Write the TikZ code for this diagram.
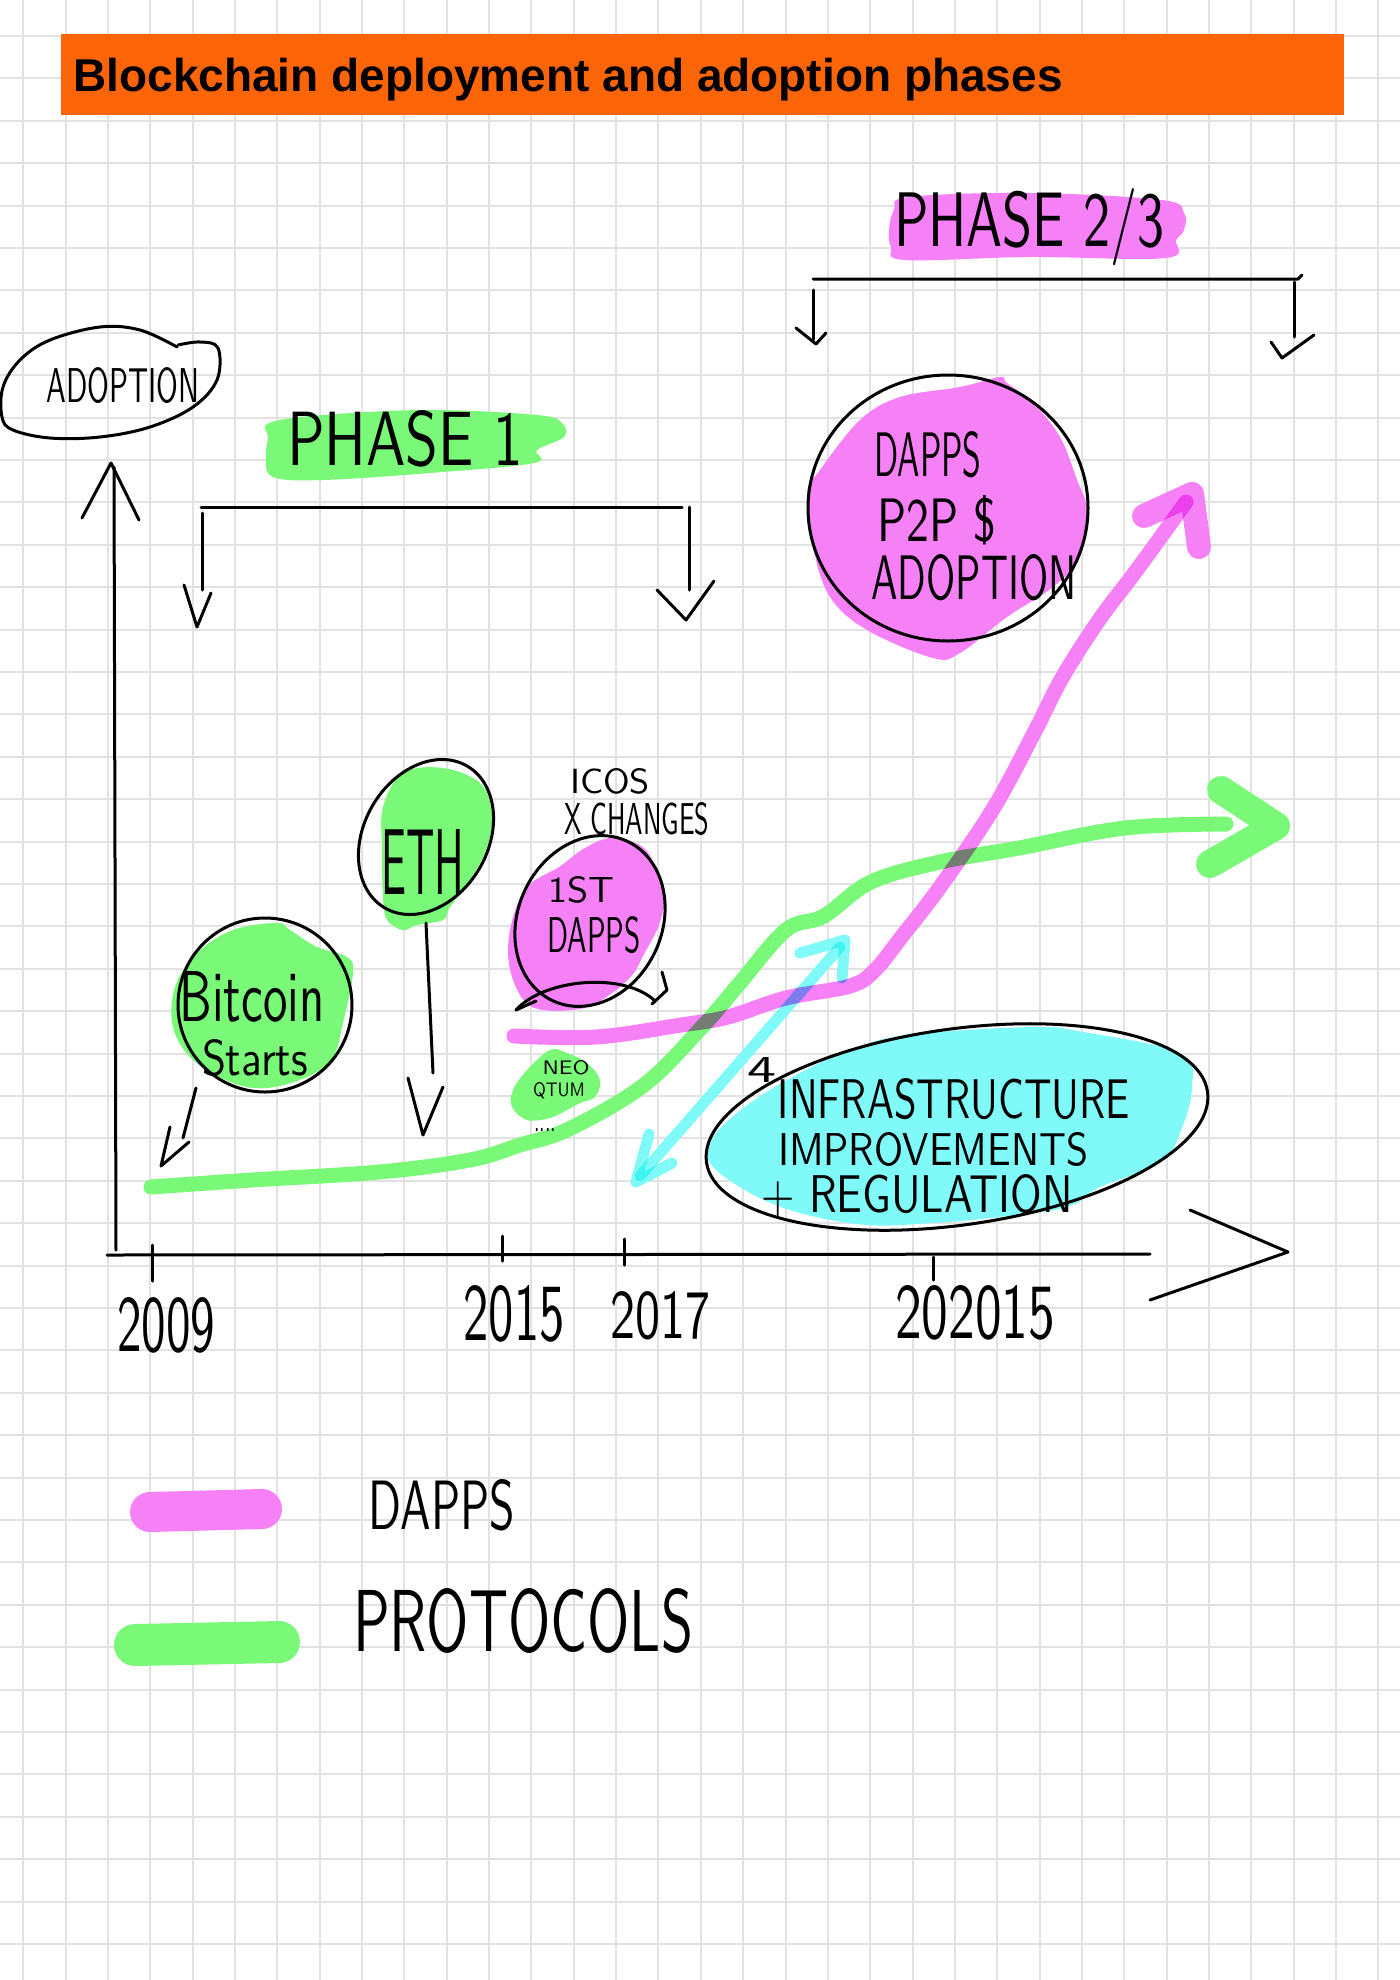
\documentclass[tikz,border=0pt]{standalone}
\usepackage{fontspec}
\setmainfont{Liberation Sans}
\usepackage{graphicx}
\newdimen\pxu \pxu=0.5pt
\newcommand{\hw}[3]{\resizebox{#1\pxu}{#2\pxu}{\sffamily #3}}
\definecolor{hlpink}{RGB}{246,128,246}
\definecolor{hlgreen}{RGB}{122,248,120}
\definecolor{hlcyan}{RGB}{128,250,248}
\definecolor{titleorange}{RGB}{252,100,8}
\definecolor{gridgrey}{RGB}{226,226,226}
\tikzset{
  pen/.style={draw=black, line width=3\pxu, line cap=round, line join=round},
  gridline/.style={draw=gridgrey, line width=2\pxu},
  hlp/.style={draw=hlpink, line cap=round, line join=round},
  hlg/.style={draw=hlgreen, line cap=round, line join=round},
  hlc/.style={draw=hlcyan, line cap=round, line join=round},
  hwtext/.style={inner sep=0pt, outer sep=0pt},
}
\begin{document}
\begin{tikzpicture}[x=0.5pt,y=-0.5pt]
\useasboundingbox (0,0) rectangle (1400,1980);
\fill[white] (0,0) rectangle (1400,1980);
% grid
\foreach \i in {0,...,32} {\draw[gridline] ({23.2+42.35*\i},0) -- ({23.2+42.35*\i},1980);}
\foreach \j in {0,...,45} {\draw[gridline] (0,{36+42.4*\j}) -- (1400,{36+42.4*\j});}
% title
\fill[titleorange] (61,34) rectangle (1344,115);
\node[anchor=base west, inner sep=0pt, font=\bfseries\fontsize{23pt}{23pt}\selectfont] (title) at (73,92) {Blockchain deployment and adoption phases};

% highlighter layer
\begin{scope}[transparency group]
\begin{scope}[blend mode=multiply]
% phase labels
\fill[hlgreen] plot[smooth cycle, tension=0.6] coordinates {(269,423) (323,415) (430,410) (537,415) (562,423) (564,437) (537,450) (534,463) (430,473) (323,480) (273,477) (266,457) (268,437)};
\fill[hlpink] plot[smooth cycle, tension=0.6] coordinates {(909,197) (1030,193) (1162,200) (1184,213) (1184,230) (1176,240) (1166,258) (1030,257) (905,260) (891,247) (889,230) (894,210)};
% DAPPS big blob
\fill[hlpink] plot[smooth cycle, tension=0.6] coordinates {(1000,377) (960,387) (900,397) (860,420) (820,470) (807,493) (813,547) (830,597) (867,630) (933,658) (960,653) (1007,617) (1053,587) (1080,557) (1087,510) (1077,480) (1060,437) (1033,403) (1007,383)};
% bitcoin blob
\fill[hlgreen] plot[smooth cycle, tension=0.6] coordinates {(277,923) (233,930) (197,953) (175,987) (173,1027) (193,1060) (233,1083) (267,1088) (307,1077) (333,1057) (343,1023) (353,973) (347,957) (317,947) (290,930)};
% ETH blob
\fill[hlgreen] plot[smooth cycle, tension=0.6] coordinates {(403,773) (443,768) (480,783) (492,813) (487,847) (470,880) (450,907) (443,920) (417,925) (403,930) (387,920) (383,897) (382,850) (383,807)};
% 1st dapps blob
\fill[hlpink] plot[smooth cycle, tension=0.6] coordinates {(612,838) (644,848) (659,877) (665,896) (659,925) (644,954) (633,974) (612,993) (585,1008) (543,1010) (522,998) (509,964) (511,925) (527,887) (559,867) (585,848)};
% NEO QTUM blob
\fill[hlgreen] plot[smooth cycle, tension=0.6] coordinates {(550,1050) (567,1053) (587,1063) (600,1080) (595,1097) (580,1103) (567,1110) (550,1118) (527,1120) (512,1107) (513,1090) (527,1070)};
% infrastructure blob
\fill[hlcyan] plot[smooth cycle, tension=0.6] coordinates {(907,1035) (1033,1027) (1083,1032) (1180,1053) (1192,1087) (1180,1133) (1160,1163) (1100,1187) (1067,1207) (1000,1217) (933,1223) (867,1225) (800,1213) (750,1193) (710,1163) (713,1137) (750,1103) (800,1073) (850,1050)};
% dapps curve
\draw[hlp, line width=15\pxu] plot[smooth, tension=0.6] coordinates {(514,1036) (596,1037) (681,1025) (728,1017) (786,998) (850,986) (875,970) (903,935) (940,887) (993,809) (1035,731) (1062,678) (1099,620) (1136,571) (1186,502)};
\draw[hlp, line width=24\pxu] (1144,516) -- (1192,494) -- (1199,547);
% protocols curve
\draw[hlg, line width=15\pxu] plot[smooth, tension=0.6] coordinates {(151,1187) (252,1180) (379,1172) (470,1160) (520,1145) (569,1129) (644,1085) (702,1027) (739,984) (786,930) (824,916) (871,882) (940,862) (1019,848) (1125,828) (1226,824)};
\draw[hlg, line width=28\pxu] (1221,790) -- (1276,826) -- (1210,864);
% cyan double arrow
\draw[hlc, line width=11\pxu] (640,1176) -- (840,947);
\draw[hlc, line width=11\pxu] (800,953) -- (845,940) -- (842,978);
\draw[hlc, line width=11\pxu] (649,1134) -- (636,1182) -- (672,1163);
% legend bars
\draw[hlp, line width=40\pxu] (150,1512) -- (262,1509);
\draw[hlg, line width=42\pxu] (135,1645) -- (279,1642);
\end{scope}
\end{scope}

% axes
\draw[pen] (114,467) -- (116,1250);
\draw[pen] (82,518) -- (111,463) -- (139,520);
\draw[pen] (107,1255) -- (1150,1254);
\draw[pen] (1190,1210) -- (1288,1252) -- (1150,1300);
\draw[pen] (152,1245) -- (152,1281);
\draw[pen] (502,1236) -- (502,1261);
\draw[pen] (624,1239) -- (624,1265);
\draw[pen] (933,1257) -- (933,1280);

% ADOPTION loop
\draw[pen] plot[smooth, tension=0.6] coordinates {(178,345) (200,342) (218,348) (217,380) (193,407) (150,427) (100,437) (50,438) (13,430) (2,417) (3,387) (20,360) (50,340) (100,327) (140,330) (177,347)};
\node[hwtext] (adoption) at (123,386) {\hw{153}{35}{ADOPTION}};

% phase 1 bracket
\node[hwtext] (phase1) at (405,439) {\hw{236}{55}{PHASE 1}};
\draw[pen] (201,507) -- (682,507);
\draw[pen] (202,513) -- (202,590);
\draw[pen] (184,585) -- (197,627) -- (211,593);
\draw[pen] (689,507) -- (689,590);
\draw[pen] (657,590) -- (686,620) -- (714,581);

% phase 2/3 bracket
\node[hwtext] (phase23) at (1029,227) {\hw{270}{58}{PHASE 2/3}};
\draw[pen] (813,279) -- (1298,279) -- (1302,275);
\draw[pen] (813,290) -- (813,340);
\draw[pen] (796,328) -- (816,344) -- (826,333);
\draw[pen] (1294,282) -- (1294,337);
\draw[pen] (1271,342) -- (1282,358) -- (1314,335);

% DAPPS circle
\draw[pen] (948,508) ellipse [x radius=140\pxu, y radius=133\pxu];
\node[hwtext] (dapps1) at (928,455) {\hw{107}{45}{DAPPS}};
\node[hwtext] (p2p) at (937,520) {\hw{119}{46}{P2P \$}};
\node[hwtext] (adoption2) at (974,578) {\hw{205}{45}{ADOPTION}};

% ICOS
\node[hwtext] (icos) at (610,781) {\hw{80}{25}{ICOS}};
\node[hwtext] (xchanges) at (637,819) {\hw{145}{32}{X CHANGES}};

% 1st DAPPS
\draw[pen, rotate around={65:(590,921)}] (590,921) ellipse [x radius=88\pxu, y radius=72\pxu];
\node[hwtext] (first) at (581,890) {\hw{66}{26}{1ST}};
\node[hwtext] (dapps2) at (594,935) {\hw{93}{36}{DAPPS}};
\draw[pen] (516,1010) .. controls (545,978) and (625,972) .. (655,1001);
\draw[pen] (662,972) -- (667,990) -- (652,1004);
\draw[pen] (516,1010) -- (536,1001);

% Bitcoin
\draw[pen] (265,1005) circle [radius=87\pxu];
\node[hwtext] (bitcoin) at (252,997) {\hw{145}{50}{Bitcoin}};
\node[hwtext] (starts) at (255,1058) {\hw{106}{36}{Starts}};
\coordinate (btcfrom) at (196,1088);
\coordinate (btcto) at (161,1166);
\draw[pen] (btcfrom) -- (183,1138);
\draw[pen] (170,1127) -- (btcto) -- (189,1142);

% ETH
\draw[pen, rotate around={60:(426,837)}] (426,837) ellipse [x radius=82\pxu, y radius=62\pxu];
\node[hwtext] (eth) at (423,862) {\hw{83}{65}{ETH}};
\coordinate (ethfrom) at (426,923);
\coordinate (ethto) at (423,1135);
\draw[pen] (ethfrom) -- (433,1073);
\draw[pen] (408,1078) -- (ethto) -- (443,1087);

% NEO QTUM
\node[hwtext] (neo) at (566,1068) {\hw{47}{14}{NEO}};
\node[hwtext] (qtum) at (559,1091) {\hw{52}{14}{QTUM}};
\node[hwtext] (dots) at (545,1130) {\hw{22}{3}{....}};

% infrastructure
\node[hwtext] (four) at (762,1070) {\hw{29}{25}{4}};
\draw[pen, rotate around={8:(957,1127)}] (957,1127) ellipse [x radius=253\pxu, y radius=98\pxu];
\node[hwtext] (infra) at (954,1099) {\hw{352}{40}{INFRASTRUCTURE}};
\node[hwtext] (improv) at (933,1149) {\hw{310}{33}{IMPROVEMENTS}};
\node[hwtext] (regul) at (917,1196) {\hw{311}{38}{+ REGULATION}};

% years
\node[hwtext] (y2009) at (166,1325) {\hw{98}{54}{2009}};
\node[hwtext] (y2015) at (514,1314) {\hw{101}{55}{2015}};
\node[hwtext] (y2017) at (660,1316) {\hw{100}{47}{2017}};
\node[hwtext] (y2020) at (975,1313) {\hw{160}{53}{202015}};

% legend
\node[hwtext] (legdapps) at (442,1505) {\hw{146}{50}{DAPPS}};
\node[hwtext] (legprot) at (523,1621) {\hw{340}{63}{PROTOCOLS}};
\end{tikzpicture}
\end{document}
